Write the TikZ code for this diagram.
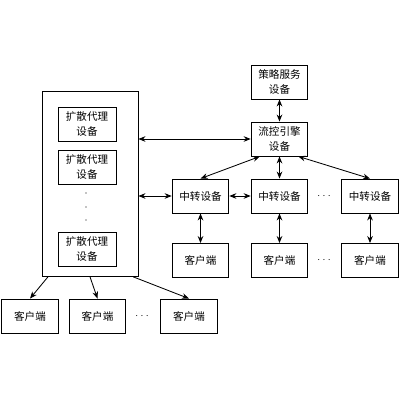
\documentclass[tikz,border=0pt]{standalone}
\usepackage{fontspec}
\newfontfamily\cjk{Noto Sans CJK SC}
\usetikzlibrary{arrows.meta, positioning}

\begin{document}
\begin{tikzpicture}[>={Stealth[length=5pt,width=4pt]}, x=0.025cm, y=-0.025cm, line width=0.6pt, font=\cjk\fontsize{7.5}{10}\selectfont]
        \tikzset{boxnode/.style={draw, minimum width=1.42cm, minimum height=0.85cm, inner sep=1pt, align=center}}
        \useasboundingbox (0,0) rectangle (400,400);

        % left side
        \node[draw, minimum width=2.4cm, minimum height=4.62cm] (agents) at (90,184) {};
        \node[boxnode, minimum width=1.45cm] (agent1) at (87,124) {扩散代理\\设备};
        \node[boxnode, minimum width=1.45cm] (agent2) at (87,167) {扩散代理\\设备};
        \node[boxnode, minimum width=1.45cm] (agent3) at (87,249) {扩散代理\\设备};
        \foreach \y in {193,207,220} \fill (86,\y) circle (0.7);

        \node[boxnode] (cl_a) at (30,316) {客户端};
        \node[boxnode] (cl_b) at (97.5,316) {客户端};
        \node[boxnode] (cl_c) at (189,316) {客户端};
        \node (cl_dots) at (142,316) {$\cdots$};

        % right side
        \node[boxnode] (policy) at (279.5,82) {策略服务\\设备};
        \node[boxnode] (engine) at (279.5,139) {流控引擎\\设备};

        \node[boxnode] (relay1) at (200.5,196) {中转设备};
        \node[boxnode] (relay2) at (279.5,196) {中转设备};
        \node[boxnode] (relay3) at (370,196) {中转设备};
        \node (relay_dots) at (324,196) {$\cdots$};

        \node[boxnode] (client1) at (200.5,260.5) {客户端};
        \node[boxnode] (client2) at (279.5,260.5) {客户端};
        \node[boxnode] (client3) at (370,260.5) {客户端};
        \node (client_dots) at (324,260.5) {$\cdots$};

        \draw[<->] (policy) -- (engine);
        \draw[<->] (agents.east |- engine.west) -- (engine.west);
        \draw[<->] (agents.east |- relay1.west) -- (relay1.west);
        \draw[<->] (relay1) -- (relay2);
        \draw[<->] ([xshift=-0.49cm]engine.south) -- (relay1.north);
        \draw[<->] (engine) -- (relay2);
        \draw[<->] ([xshift=0.47cm]engine.south) -- (relay3.north);
        \draw[<->] (relay1) -- (client1);
        \draw[<->] (relay2) -- (client2);
        \draw[<->] (relay3) -- (client3);

        \draw[->] ([xshift=0.16cm]agents.south west) -- (cl_a.north);
        \draw[->] (agents.south) -- (cl_b.north);
        \draw[->] ([xshift=-0.13cm]agents.south east) -- (cl_c.north);
    \end{tikzpicture}
\end{document}
